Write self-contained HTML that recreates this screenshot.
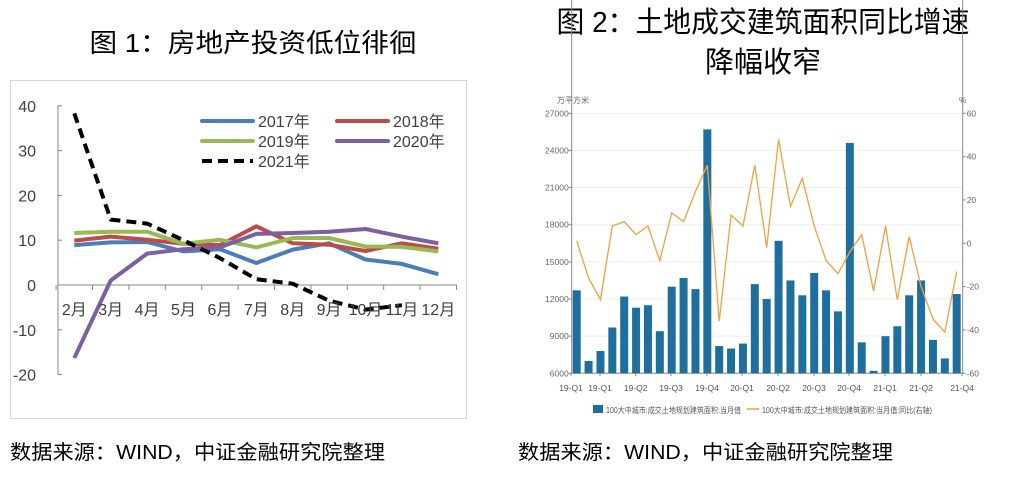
<!DOCTYPE html>
<html><head><meta charset="utf-8"><style>
html,body{margin:0;padding:0;background:#fff;width:1016px;height:483px;overflow:hidden}
svg{display:block}
text{font-family:"Liberation Sans","Noto Sans CJK SC",sans-serif}
</style></head><body>
<svg id="s" width="1016" height="483" viewBox="0 0 1016 483" xmlns="http://www.w3.org/2000/svg">
<text x="253" y="52" font-size="26" text-anchor="middle" fill="#000" textLength="327" lengthAdjust="spacingAndGlyphs">图 1：房地产投资低位徘徊</text>
<text x="763" y="32" font-size="29" text-anchor="middle" fill="#000" textLength="413" lengthAdjust="spacingAndGlyphs">图 2：土地成交建筑面积同比增速</text>
<text x="763" y="72" font-size="29" text-anchor="middle" fill="#000">降幅收窄</text>
<rect x="10.5" y="80.5" width="456" height="338" fill="none" stroke="#d9d9d9"/>
<g id="L"></g><g id="R"></g>
<text x="10" y="459" font-size="20" fill="#000" textLength="375" lengthAdjust="spacingAndGlyphs">数据来源：WIND，中证金融研究院整理</text>
<text x="518" y="459" font-size="20" fill="#000" textLength="375" lengthAdjust="spacingAndGlyphs">数据来源：WIND，中证金融研究院整理</text>
</svg>
<script>
var NS="http://www.w3.org/2000/svg";
function el(p,t,a,txt){var e=document.createElementNS(NS,t);for(var k in a)e.setAttribute(k,a[k]);if(txt!=null)e.textContent=txt;p.appendChild(e);return e;}
var L=document.getElementById('L');
var y0=285,u=4.48,x0=74.3,st=36.4;
function Y(v){return y0-v*u}
el(L,'line',{x1:58,y1:105.7,x2:58,y2:375,stroke:'#888','stroke-width':1});
[40,30,20,10,0,-10,-20].forEach(function(v){el(L,'line',{x1:58,y1:Y(v),x2:62,y2:Y(v),stroke:'#888'});el(L,'text',{x:36,y:Y(v)+6,'font-size':16,'text-anchor':'end',fill:'#404040'},v);});
el(L,'line',{x1:58,y1:y0,x2:457,y2:y0,stroke:'#888'});
for(var i=0;i<=11;i++){var xx=x0-st/2+i*st;el(L,'line',{x1:xx,y1:y0,x2:xx,y2:y0+5,stroke:'#888'});}
var ser=[
['#4a7ebb',[8.9,9.5,9.6,7.5,8.0,4.9,7.9,9.3,5.7,4.7,2.4],0],
['#be4b48',[9.9,10.8,10.1,9.2,8.9,13.1,9.3,9.0,7.6,9.3,8.1],0],
['#98b954',[11.6,11.9,11.9,9.2,10.1,8.4,10.5,10.5,8.6,8.5,7.5],0],
['#7d60a0',[-16.3,1.0,7.0,8.0,8.4,11.4,11.6,11.9,12.5,10.8,9.3],0],
['#000',[38.3,14.6,13.7,10.0,6.0,1.3,0.3,-3.5,-5.5,-4.5],1]];
ser.forEach(function(s){var p=s[1].map(function(v,i){return (x0+i*st).toFixed(1)+','+Y(v).toFixed(1)}).join(' ');
var a={points:p,fill:'none',stroke:s[0],'stroke-width':4,'stroke-linejoin':'round'};if(s[2]){a['stroke-dasharray']='10,6';}el(L,'polyline',a);});
var m=['2月','3月','4月','5月','6月','7月','8月','9月','10月','11月','12月'];
m.forEach(function(t,i){el(L,'text',{x:x0+i*st,y:315,'font-size':16,'text-anchor':'middle',fill:'#404040'},t);});
var lg=[['#4a7ebb','2017年',202,121,0],['#be4b48','2018年',337,121,0],['#98b954','2019年',202,141,0],['#7d60a0','2020年',337,141,0],['#000','2021年',202,161,1]];
lg.forEach(function(g){var a={x1:g[2],y1:g[3],x2:g[2]+51,y2:g[3],stroke:g[0],'stroke-width':4};if(g[4])a['stroke-dasharray']='10,6';else a['stroke-linecap']='round';el(L,'line',a);el(L,'text',{x:g[2]+56,y:g[3]+6,'font-size':16,fill:'#404040'},g[1]);});
var R=document.getElementById('R');
var ax=571.7,bx=962.7,top=113.3,bot=373.3;
function YL(v){return bot-(v-6000)/21000*260}
function YR(v){return bot-(v+60)/120*260}
el(R,'text',{x:557,y:103,'font-size':8,fill:'#666'},'万平方米');
el(R,'text',{x:959,y:103,'font-size':8,fill:'#666'},'%');
for(var v=6000;v<=27000;v+=3000){var y=YL(v);el(R,'line',{x1:ax,y1:y,x2:bx,y2:y,stroke:'#eee'});el(R,'line',{x1:ax-3,y1:y,x2:ax,y2:y,stroke:'#888'});el(R,'text',{x:ax-3,y:y+3,'font-size':8.5,'text-anchor':'end',fill:'#666'},v);}
for(var v=-60;v<=60;v+=20){var y=YR(v);el(R,'line',{x1:bx,y1:y,x2:bx+3,y2:y,stroke:'#888'});el(R,'text',{x:bx+4,y:y+3,'font-size':8.5,fill:'#666'},v);}
el(R,'line',{x1:ax,y1:top,x2:ax,y2:bot,stroke:'#888'});
el(R,'line',{x1:bx,y1:top,x2:bx,y2:bot,stroke:'#888'});
el(R,'line',{x1:ax,y1:bot,x2:bx,y2:bot,stroke:'#888'});
var bars=[12700,7000,7800,9700,12200,11300,11500,9400,13000,13700,12800,25700,8200,8000,8400,13200,12000,16700,13500,12300,14100,12700,11000,24600,8500,6200,9000,9800,12300,13500,8700,7200,12400];
var line=[1,-16,-26,8,10,4,8,-8,14,10,24,36,-36,13,8,36,-2,48,17,30,8,-8,-14,-4,4,-22,8,-26,3,-20,-35,-41,-13];
var c0=576.7,cs=11.875;
bars.forEach(function(b,i){var x=c0+i*cs;el(R,'rect',{x:x-4,y:YL(b),width:8,height:bot-YL(b),fill:'#1f6f9e'});});
el(R,'polyline',{points:line.map(function(v,i){return (c0+i*cs).toFixed(1)+','+YR(v).toFixed(1)}).join(' '),fill:'none',stroke:'#f5a040','stroke-width':1.3});
var xl=[['19-Q1',571],['19-Q1',600],['19-Q2',635.7],['19-Q3',671],['19-Q4',707],['20-Q1',742],['20-Q2',778],['20-Q3',814],['20-Q4',849],['21-Q1',885],['21-Q2',921],['21-Q4',962]];
xl.forEach(function(q){el(R,'line',{x1:q[1],y1:bot,x2:q[1],y2:bot+3,stroke:'#888'});el(R,'text',{x:q[1],y:391,'font-size':8.5,'text-anchor':'middle',fill:'#555'},q[0]);});
el(R,'rect',{x:593,y:405,width:10,height:8,fill:'#1f6f9e'});
el(R,'text',{x:606,y:413,'font-size':8,fill:'#555',textLength:135,lengthAdjust:'spacingAndGlyphs'},'100大中城市:成交土地规划建筑面积:当月值');
el(R,'line',{x1:747,y1:409,x2:759,y2:409,stroke:'#f5a040','stroke-width':1.5});
el(R,'text',{x:762,y:413,'font-size':8,fill:'#555',textLength:170,lengthAdjust:'spacingAndGlyphs'},'100大中城市:成交土地规划建筑面积:当月值:同比(右轴)');
</script>
</body></html>
